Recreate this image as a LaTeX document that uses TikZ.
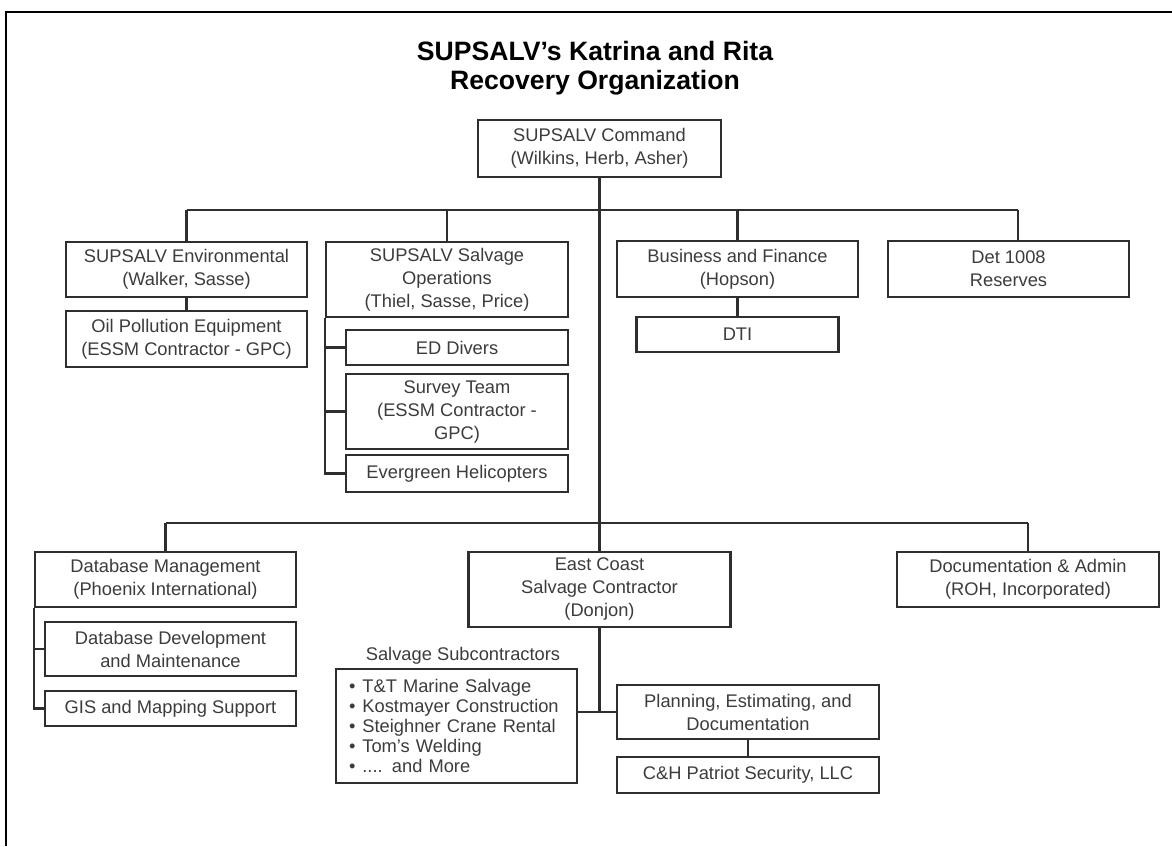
\documentclass[tikz,border=0pt]{standalone}
\usepackage{fontspec}
\setmainfont{Liberation Sans}
\definecolor{txt}{HTML}{3C3C3C}
\definecolor{ln}{HTML}{2E2E2E}
\begin{document}
\begin{tikzpicture}[x=1pt,y=-1pt,
 box/.style={draw=ln, line width=2.6pt, fill=white, align=center, inner sep=0pt, text=txt, font=\fontsize{18.3}{23}\selectfont},
 conn/.style={draw=ln, line width=2.3pt},
 frame/.style={draw=black, line width=1.6pt},
 ttl/.style={font=\bfseries\fontsize{26.6}{29}\selectfont, align=center, text=black},
 lbl/.style={font=\fontsize{18.3}{23}\selectfont, text=txt, inner sep=0pt}
]
\useasboundingbox (0,0) rectangle (1172,846);
\coordinate (fA) at (6,846);
\coordinate (fB) at (6,12);
\coordinate (fC) at (1172,12);
\draw[frame] (fA) -- (fB) -- (fC);

\node[ttl] (title) at (595,68) {SUPSALV's Katrina and Rita\\Recovery Organization};

\node[box, minimum width=243pt, minimum height=57pt] (cmd) at (599.5,148.5) {SUPSALV Command\\(Wilkins, Herb, Asher)};

\node[box, minimum width=241pt, minimum height=55pt] (env) at (186.5,269.5) {SUPSALV Environmental\\(Walker, Sasse)};
\node[box, minimum width=241pt, minimum height=56pt] (oil) at (186.5,339) {Oil Pollution Equipment\\(ESSM Contractor - GPC)};

\node[box, minimum width=242pt, minimum height=75pt] (salv) at (447,279.5) {SUPSALV Salvage\\Operations\\(Thiel, Sasse, Price)};
\node[box, minimum width=222pt, minimum height=35pt] (ed) at (457,347.5) {ED Divers};
\node[box, minimum width=222pt, minimum height=75pt] (survey) at (457,411.5) {Survey Team\\(ESSM Contractor -\\GPC)};
\node[box, minimum width=222pt, minimum height=37pt] (ever) at (457,473.5) {Evergreen Helicopters};

\node[box, minimum width=241pt, minimum height=56pt] (bus) at (737.5,269) {Business and Finance\\(Hopson)};
\node[box, minimum width=202pt, minimum height=35pt] (dti) at (737.5,334.5) {DTI};

\node[box, minimum width=241pt, minimum height=56pt] (det) at (1008.5,269) {Det 1008\\Reserves};

\node[box, minimum width=261pt, minimum height=55pt] (dbm) at (165.5,579.5) {Database Management\\(Phoenix International)};
\node[box, minimum width=251pt, minimum height=54pt] (dbdev) at (170.5,649) {Database Development\\and Maintenance};
\node[box, minimum width=251pt, minimum height=35pt] (gis) at (170.5,708.5) {GIS and Mapping Support};

\node[box, minimum width=262pt, minimum height=75pt] (east) at (599.5,589.5) {East Coast\\Salvage Contractor\\(Donjon)};
\node[box, minimum width=262pt, minimum height=55pt] (doc) at (1028,579.5) {Documentation \& Admin\\(ROH, Incorporated)};

\node[lbl] (sublbl) at (463,656) {Salvage Subcontractors};
\node[box, align=left, text width=215pt, inner xsep=13pt, minimum height=114pt, font=\fontsize{18.3}{20}\selectfont] (sub) at (456.5,726)
{\hyphenpenalty=10000
\textbullet\hspace{7pt}T\&T Marine Salvage\\
\textbullet\hspace{7pt}Kostmayer Construction\\
\textbullet\hspace{7pt}Steighner Crane Rental\\
\textbullet\hspace{7pt}Tom's Welding\\
\textbullet\hspace{7pt}.... and More};

\node[box, minimum width=262pt, minimum height=54pt] (plan) at (748,712) {Planning, Estimating, and\\Documentation};
\node[box, minimum width=262pt, minimum height=36pt] (ch) at (748,775) {C\&H Patriot Security, LLC};

% top level bus
\coordinate (t1L) at (186.5,210);
\coordinate (t1R) at (1018,210);
\draw[conn] (t1L) -- (t1R);
\draw[conn] (cmd.south) -- (east.north);
\draw[conn] (t1L) -- (env.north);
\draw[conn] (salv.north |- t1L) -- (salv.north);
\draw[conn] (bus.north |- t1L) -- (bus.north);
\draw[conn] (t1R) -- (t1R |- det.north);
\draw[conn] (env) -- (oil);
\draw[conn] (bus) -- (dti);
\draw[conn] (salv.south west) -- (salv.south west |- ever.west) -- (ever.west);
\draw[conn] (salv.south west |- ed.west) -- (ed.west);
\draw[conn] (salv.south west |- survey.west) -- (survey.west);

% second level bus
\coordinate (t2L) at (165.5,523);
\coordinate (t2R) at (1028,523);
\draw[conn] (t2L) -- (t2R);
\draw[conn] (t2L) -- (dbm.north);
\draw[conn] (t2R) -- (doc.north);
\draw[conn] (dbm.south west) -- (dbm.south west |- gis.west) -- (gis.west);
\draw[conn] (dbm.south west |- dbdev.west) -- (dbdev.west);

\coordinate (j) at (599.5,712);
\draw[conn] (east.south) -- (j);
\draw[conn] (j -| sub.east) -- (plan.west);
\draw[conn] (plan) -- (ch);
\end{tikzpicture}
\end{document}
